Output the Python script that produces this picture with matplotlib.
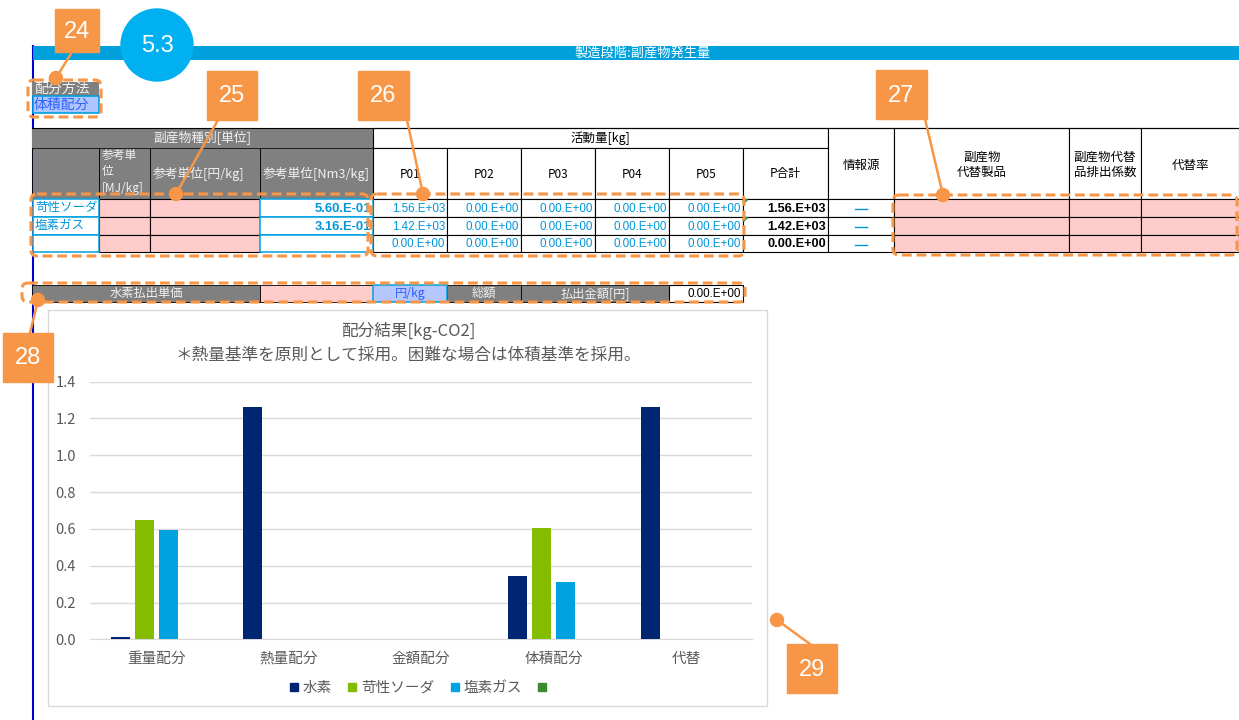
import matplotlib
matplotlib.use("Agg")
import matplotlib.pyplot as plt
from matplotlib.patches import Rectangle, FancyBboxPatch, Circle, Polygon
from matplotlib.lines import Line2D
import numpy as np

plt.rcParams['font.family'] = ['Noto Sans CJK JP', 'DejaVu Sans']

# --- chart data ---
methods = ["重量配分", "熱量配分", "金額配分", "体積配分", "代替"]
series_names = ["水素", "苛性ソーダ", "塩素ガス", ""]
h2 = [0.015, 1.262, 0.0, 0.345, 1.262]
naoh = [0.647, 0.0, 0.0, 0.605, 0.0]
cl2 = [0.593, 0.0, 0.0, 0.312, 0.0]
other = [0.0, 0.0, 0.0, 0.0, 0.0]
series_colors = ["#002673", "#84BD00", "#00A3E0", "#3A8A2E"]
yticks = [0.0, 0.2, 0.4, 0.6, 0.8, 1.0, 1.2, 1.4]

# --- table data ---
byproducts = ["苛性ソーダ", "塩素ガス", ""]
nm3_per_kg = ["5.60.E-01", "3.16.E-01", ""]
p_cols = ["P01", "P02", "P03", "P04", "P05", "P合計"]
activity = [
    ["1.56.E+03", "0.00.E+00", "0.00.E+00", "0.00.E+00", "0.00.E+00"],
    ["1.42.E+03", "0.00.E+00", "0.00.E+00", "0.00.E+00", "0.00.E+00"],
    ["0.00.E+00", "0.00.E+00", "0.00.E+00", "0.00.E+00", "0.00.E+00"],
]
p_total = ["1.56.E+03", "1.42.E+03", "0.00.E+00"]

ORANGE = "#F79646"
CYAN = "#00A0E0"
CYAN_TXT = "#0096DB"
PINK = "#FFCCCC"
GRAY = "#808080"
HDR_TXT = "#F2F2F2"
LBLUE = "#B4C7FF"
NUM = ['Liberation Sans', 'Noto Sans CJK JP']

fig = plt.figure(figsize=(12.39, 7.2), dpi=100)

# pixel coordinate background layer
bg = fig.add_axes([0, 0, 1, 1])
bg.set_xlim(0, 1239)
bg.set_ylim(720, 0)
bg.axis('off')


def box(ax, x0, x1, y0, y1, fc='none', ec='black', lw=0.8, z=2):
    ax.add_patch(Rectangle((x0, y0), x1 - x0, y1 - y0, facecolor=fc,
                           edgecolor=ec, linewidth=lw, zorder=z))


def txt(ax, x, y, s, size=8.5, color='black', ha='center', va='center', z=5, **kw):
    ax.text(x, y, s, fontsize=size, color=color, ha=ha, va=va, zorder=z, **kw)


# left blue margin line and top bar
bg.plot([32.5, 32.5], [46, 720], color="#0000CD", lw=1.5, zorder=1)
box(bg, 33, 1239, 46, 60, fc="#00A0DC", ec='none', z=1)
txt(bg, 643, 53, "製造段階:副産物発生量", size=9.5, color='white')

# allocation method cells
box(bg, 32, 99, 82, 96, fc=GRAY, ec='none', z=2)
txt(bg, 34, 89, "配分方法", size=10, color=HDR_TXT, ha='left')
box(bg, 33, 99, 96, 113, fc="#AEC6FF", ec=CYAN, lw=1.2, z=2)
txt(bg, 34, 104.5, "体積配分", size=10, color="#3060FF", ha='left')

# table top border
bg.plot([32, 1239], [128, 128], color='black', lw=0.8, zorder=3)

# --- left table header ---
LX = [32, 99, 150, 260, 373]
R = [128, 148, 199, 217, 235, 252]
box(bg, 32, 373, 128, 148, fc=GRAY, ec='none', z=2)
txt(bg, 202, 138, "副産物種別[単位]", size=9.2, color=HDR_TXT)
for i in range(4):
    box(bg, LX[i], LX[i + 1], 148, 199, fc=GRAY, ec='black', lw=0.6, z=2)
txt(bg, 102, 149, "参考単\n位\n[MJ/kg]", size=8.5, color=HDR_TXT, ha='left', va='top',
    z=3, linespacing=1.35)
txt(bg, 153, 174, "参考単位[円/kg]", size=9.2, color=HDR_TXT, ha='left', z=3)
txt(bg, 263, 174, "参考単位[Nm3/kg]", size=9.2, color=HDR_TXT, ha='left', z=3)

# --- activity table header ---
PX = [373, 447, 521, 595, 669, 743, 828]
box(bg, 373, 828, 128, 148, fc='white', ec='black', lw=0.8, z=2)
txt(bg, 600, 138, "活動量[kg]", size=9)
for i, name in enumerate(p_cols):
    box(bg, PX[i], PX[i + 1], 148, 199, fc='white', ec='black', lw=0.8, z=2)
    txt(bg, (PX[i] + PX[i + 1]) / 2, 174, name, size=8.5)

RX = [828, 894, 1069, 1141, 1239]
right_hdr = ["情報源", "副産物\n代替製品", "副産物代替\n品排出係数", "代替率"]
for i, name in enumerate(right_hdr):
    box(bg, RX[i], RX[i + 1], 128, 199, fc='white', ec='black', lw=0.8, z=2)
    txt(bg, (RX[i] + RX[i + 1]) / 2, 165, name, size=9, linespacing=1.25)

# --- data rows ---
for r in range(3):
    y0, y1 = R[2 + r], R[3 + r]
    ym = (y0 + y1) / 2
    box(bg, 99, 150, y0, y1, fc=PINK, ec='black', lw=0.8, z=4)
    box(bg, 150, 260, y0, y1, fc=PINK, ec='black', lw=0.8, z=4)
    for i in range(5):
        box(bg, PX[i], PX[i + 1], y0, y1, fc='white', ec='black', lw=0.8, z=4)
        txt(bg, PX[i + 1] - 2, ym + 0.5, activity[r][i], size=8.4, color=CYAN_TXT,
            ha='right', family=NUM)
    box(bg, 743, 828, y0, y1, fc='white', ec='black', lw=0.8, z=4)
    txt(bg, 826, ym + 0.5, p_total[r], size=9.2, ha='right', weight='bold', family=NUM)
    if p_total[r] != "0.00.E+00":
        bg.add_patch(Polygon([[743.5, y0 + 0.5], [747.5, y0 + 0.5], [743.5, y0 + 4.5]],
                             color="#1E8C3A", zorder=4.6))
    box(bg, 828, 894, y0, y1, fc='white', ec='black', lw=0.8, z=4)
    bg.plot([855, 867], [ym + 1, ym + 1], color=CYAN_TXT, lw=1.0, zorder=5)
    for i in range(1, 4):
        box(bg, RX[i], RX[i + 1], y0, y1, fc=PINK, ec='black', lw=0.8, z=4)
    # cyan bordered cells on top
    box(bg, 33, 99, y0, y1, fc='white', ec=CYAN, lw=1.1, z=4.5)
    txt(bg, 35, ym, byproducts[r], size=9.0, color=CYAN_TXT, ha='left')
    box(bg, 260, 373, y0, y1, fc='white', ec=CYAN, lw=1.1, z=4.5)
    txt(bg, 371, ym + 0.5, nm3_per_kg[r], size=9.4, color=CYAN_TXT, ha='right',
        weight='bold', family=NUM)

# --- hydrogen payout row ---
yy0, yy1 = 285, 302
ym = (yy0 + yy1) / 2
box(bg, 32, 260, yy0, yy1, fc=GRAY, ec='black', lw=0.6, z=2)
txt(bg, 146, ym, "水素払出単価", size=8.8, color=HDR_TXT)
box(bg, 260, 373, yy0, yy1, fc=PINK, ec='black', lw=0.6, z=2)
box(bg, 373, 447, yy0, yy1, fc=LBLUE, ec=CYAN, lw=1.1, z=2.5)
txt(bg, 410, ym, "円/kg", size=8.8, color="#3060FF")
box(bg, 447, 521, yy0, yy1, fc=GRAY, ec='black', lw=0.6, z=2)
txt(bg, 484, ym, "総額", size=8.8, color=HDR_TXT)
box(bg, 521, 669, yy0, yy1, fc=GRAY, ec='black', lw=0.6, z=2)
txt(bg, 595, ym, "払出金額[円]", size=8.8, color=HDR_TXT)
box(bg, 669, 743, yy0, yy1, fc='white', ec='black', lw=0.8, z=2)
txt(bg, 741, ym + 0.5, "0.00.E+00", size=8.4, ha='right', family=NUM)

# chart frame
box(bg, 48, 767, 310, 706, fc='white', ec="#D9D9D9", lw=1, z=1.5)
txt(bg, 408, 331, "配分結果[kg-CO2]", size=12, color="#595959")
txt(bg, 408, 355, "＊熱量基準を原則として採用。困難な場合は体積基準を採用。", size=12,
    color="#595959")

# --- bar chart ---
ax = fig.add_axes([89.75 / 1239, (720 - 639.3) / 720, 662.5 / 1239, 257.6 / 720])
ax.set_facecolor('none')
x = np.arange(len(methods))
step = 24 / 132.5
width = 19 / 132.5
for j, (vals, col) in enumerate(zip([h2, naoh, cl2, other], series_colors)):
    ax.bar(x + (j - 1.5) * step, vals, width=width, color=col, linewidth=0, zorder=3)
ax.set_xlim(-0.5, len(methods) - 0.5)
ax.set_ylim(0, 1.4)
ax.set_yticks(yticks)
ax.set_yticklabels([f"{v:.1f}" for v in yticks])
ax.set_xticks(x)
ax.set_xticklabels(methods)
ax.grid(axis='y', color="#D9D9D9", lw=1, zorder=0)
for s in ['top', 'right', 'left']:
    ax.spines[s].set_visible(False)
ax.spines['bottom'].set_color("#D9D9D9")
ax.tick_params(axis='both', length=0, colors="#595959", labelsize=10.5)
ax.tick_params(axis='x', pad=9)
ax.tick_params(axis='y', pad=10)

handles = [Line2D([], [], marker='s', color=c, linestyle='none', markersize=6)
           for c in series_colors]
fig.legend(handles, series_names, loc='center', bbox_to_anchor=(419 / 1239, 1 - 688 / 720),
           ncol=4, frameon=False, fontsize=10.5, handletextpad=0.1, columnspacing=0.9,
           handlelength=1.0, labelcolor="#595959")

# --- callout overlay ---
ov = fig.add_axes([0, 0, 1, 1], zorder=10)
ov.set_xlim(0, 1239)
ov.set_ylim(720, 0)
ov.axis('off')
ov.set_facecolor('none')

# dashed highlight frames
for (x0, x1, y0, y1) in [(28, 101, 80, 117), (31, 368, 194, 256), (371, 744, 194, 256),
                         (893, 1237, 195, 255), (22, 745, 283, 302)]:
    ov.add_patch(FancyBboxPatch((x0, y0), x1 - x0, y1 - y0,
                                boxstyle="round,pad=0,rounding_size=6",
                                fc='none', ec=ORANGE, lw=2.2, linestyle=(0, (3.2, 1.6)),
                                zorder=2))

# numbered callouts
callouts = [("24", (55, 99, 9, 52), (72, 52), (56, 78)),
            ("25", (207, 257, 71, 120), (218, 120), (176, 194)),
            ("26", (358, 409, 71, 120), (407, 120), (423, 194)),
            ("27", (876, 927, 70, 119), (925, 119), (943, 195)),
            ("28", (3, 53, 333, 382), (30, 333), (38, 300)),
            ("29", (787, 837, 644, 693), (810, 644), (777, 620))]
for lab, (x0, x1, y0, y1), p0, p1 in callouts:
    ov.plot([p0[0], p1[0]], [p0[1], p1[1]], color=ORANGE, lw=1.8, zorder=3)
    ov.add_patch(Circle(p1, 6.5, color=ORANGE, zorder=4))
    ov.add_patch(Rectangle((x0, y0), x1 - x0, y1 - y0, color=ORANGE, zorder=4))
    ov.text((x0 + x1) / 2, (y0 + y1) / 2 + 1, lab, fontsize=17, color='white',
            ha='center', va='center', family=['Liberation Sans'], zorder=5)

ov.add_patch(Circle((157, 45), 36, color="#00B0F0", zorder=4))
ov.text(157, 46, "5.3", fontsize=17, color='white', ha='center', va='center',
        family=['Liberation Sans'], zorder=5)

fig.savefig("out.png", dpi=100)
